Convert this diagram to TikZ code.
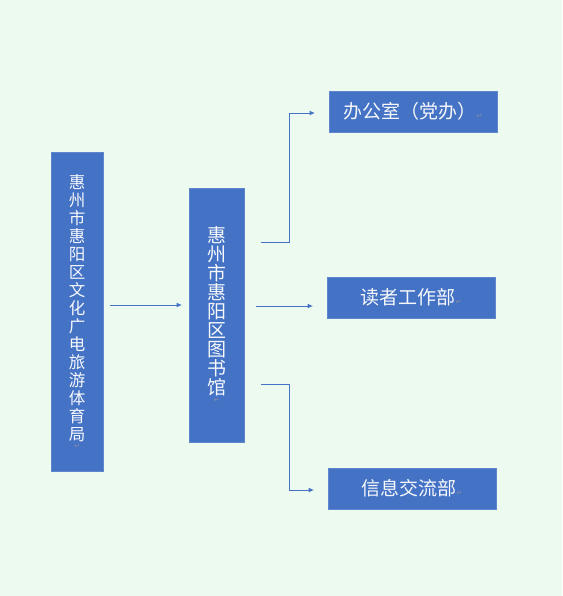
\documentclass[tikz,border=0pt]{standalone}
\usepackage{fontspec}
\setmainfont{Noto Sans CJK SC}
\newfontfamily\dejavu{DejaVu Sans}
\usetikzlibrary{arrows.meta,calc}
\definecolor{bg}{HTML}{EDFAF0}
\definecolor{boxblue}{HTML}{4472C4}
\definecolor{markgray}{HTML}{8A8FA8}
\newcommand{\pmk}{{\dejavu\color{markgray}\fontsize{7}{7}\selectfont ↵}}
\tikzset{
  box/.style={fill=boxblue, draw=boxblue!85!white, line width=0.6pt, text=white!95!boxblue, inner sep=0pt, align=center},
  conn/.style={draw=boxblue, line width=0.9pt, -{Triangle[length=5pt,width=4pt]}}
}
\begin{document}
\begin{tikzpicture}[x=1pt,y=-1pt]
\fill[bg] (0,0) rectangle (562,596);
\useasboundingbox (0,0) rectangle (562,596);
\node[box, minimum width=52pt, minimum height=319pt, font=\fontsize{16.5}{18}\selectfont] (bureau) at (77,311.5)
  {惠\\州\\市\\惠\\阳\\区\\文\\化\\广\\电\\旅\\游\\体\\育\\局\\[-10pt]\pmk};
\node[box, minimum width=55pt, minimum height=254pt, font=\fontsize{19}{19}\selectfont] (lib) at (216.5,315)
  {惠\\州\\市\\惠\\阳\\区\\图\\书\\馆\\[-11pt]\pmk};
\node[box, minimum width=168pt, minimum height=41pt, font=\fontsize{19}{20}\selectfont] (office) at (413,111.5)
  {办公室（党办）\pmk};
\node[box, minimum width=168pt, minimum height=41pt, font=\fontsize{19}{20}\selectfont] (reader) at (411,297.5)
  {读者工作部\pmk};
\node[box, minimum width=168pt, minimum height=41pt, font=\fontsize{19}{20}\selectfont] (info) at (412,488.5)
  {信息交流部\pmk};
\draw[conn] ($(bureau.east)+(7,-6.5)$) -- ($(lib.west)+(-7,-10)$);
\draw[conn] ($(lib.east)+(17,-73)$) -- ++(28,0) |- ($(office.west)+(-14,1.5)$);
\draw[conn] ($(lib.east)+(12,-9)$) -- ($(reader.west)+(-14,8.5)$);
\draw[conn] ($(lib.east)+(17,69)$) -- ++(28,0) |- ($(info.west)+(-14,1.5)$);
\end{tikzpicture}
\end{document}
